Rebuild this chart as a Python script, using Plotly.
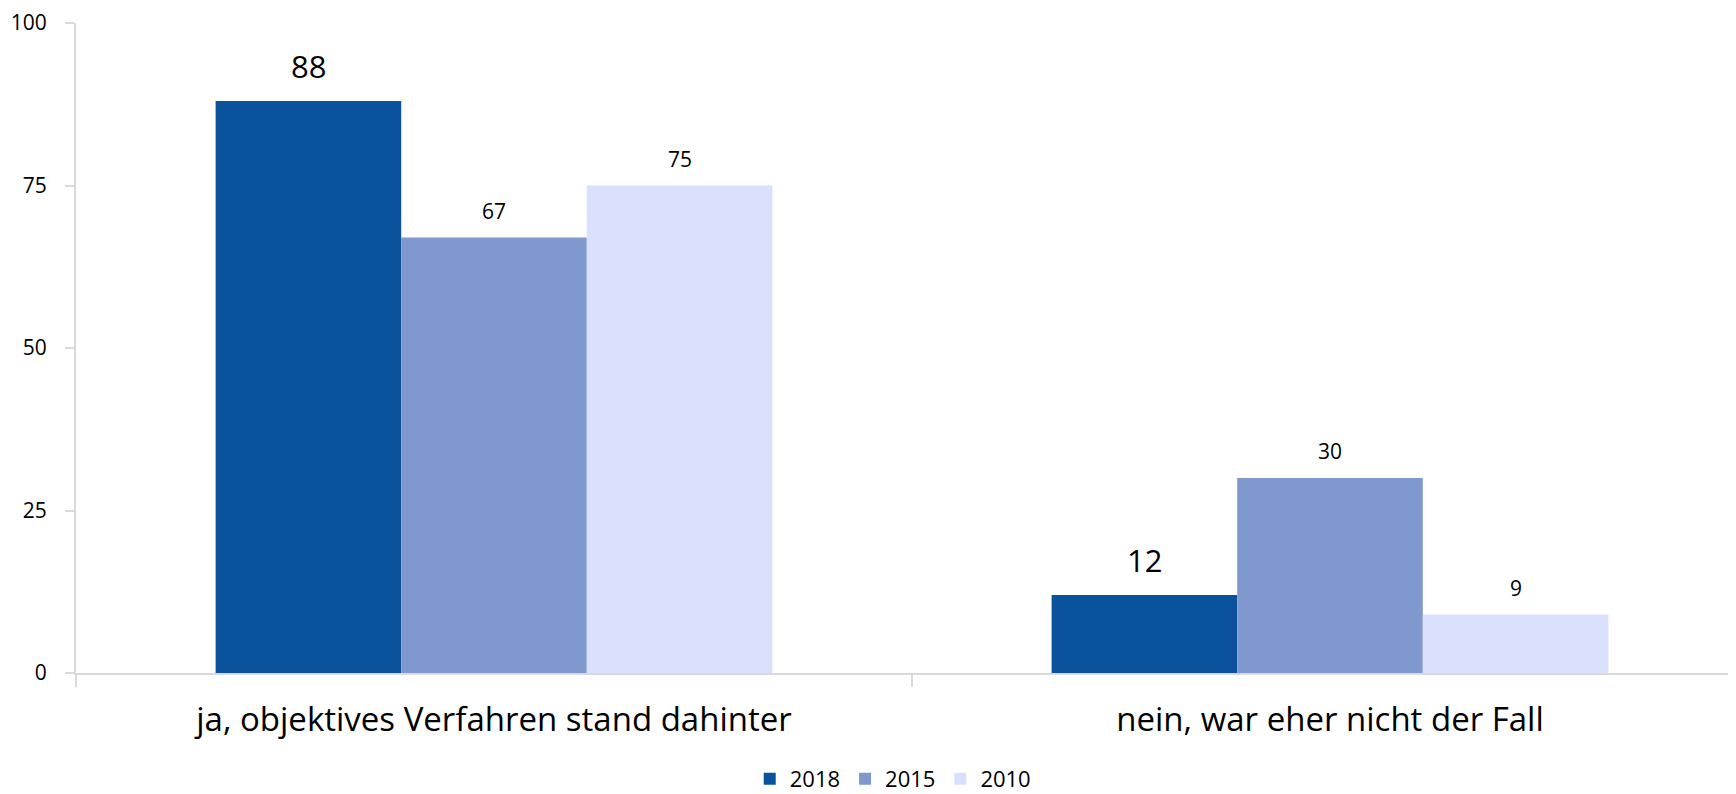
import plotly.graph_objects as go

categories = ["ja, objektives Verfahren stand dahinter", "nein, war eher nicht der Fall"]
years = ["2018", "2015", "2010"]
values_2018 = [88, 12]
values_2015 = [67, 30]
values_2010 = [75, 9]
y_ticks = [0, 25, 50, 75, 100]

series = [values_2018, values_2015, values_2010]
colors = ["#0A529C", "#7F98CD", "#D8E0FC"]
label_sizes = [31, 21, 21]

FONT = "Open Sans"
# page body adds an 8px offset; size the figure so it fits the 1736x794 window
W, H = 1728, 786
ML, MR, MT, MB = 68, 0, 15, 121
bargap = 0.334
bar_w = (1 - bargap) / len(series)

fig = go.Figure()
for name, vals, col in zip(years, series, colors):
    fig.add_trace(go.Bar(name=name, x=categories, y=vals, marker=dict(color=col, line=dict(width=0))))

# value labels
for j, (vals, size) in enumerate(zip(series, label_sizes)):
    for i, v in enumerate(vals):
        fig.add_annotation(
            x=i + (j - 1) * bar_w, y=v, text=str(v), showarrow=False,
            yanchor="bottom", yshift=11 if size < 25 else 12,
            font=dict(family=FONT, size=size, color="#000000"),
        )

plot_w = W - ML - MR
unit_px = 836
x_hi = -0.5 + plot_w / unit_px

fig.update_layout(
    width=W, height=H,
    margin=dict(l=ML, r=MR, t=MT, b=MB, autoexpand=False),
    paper_bgcolor="white", plot_bgcolor="white",
    barmode="group", bargap=bargap, bargroupgap=0,
    font=dict(family=FONT, color="#000000"),
    showlegend=True,
    legend=dict(orientation="h", x=0.492, xanchor="center", y=-0.163, yanchor="middle",
                font=dict(family=FONT, size=22), itemwidth=30, traceorder="normal"),
)
fig.update_xaxes(
    type="category", range=[-0.5, x_hi], automargin=False,
    showline=True, linecolor="#D9D9D9", linewidth=2,
    ticks="outside", tickson="boundaries", ticklen=12, tickcolor="#D9D9D9", tickwidth=2,
    tickfont=dict(family=FONT, size=33, color="#000000"),
    ticklabelstandoff=16,
    showgrid=False, zeroline=False,
)
fig.update_yaxes(
    range=[0, 100], tickvals=y_ticks, automargin=False,
    showline=True, linecolor="#D9D9D9", linewidth=2,
    ticks="outside", ticklen=9, tickcolor="#D9D9D9", tickwidth=2,
    tickfont=dict(family=FONT, size=21, color="#000000"),
    ticklabelstandoff=14,
    showgrid=False, zeroline=False,
)

fig.write_html("out.html")
